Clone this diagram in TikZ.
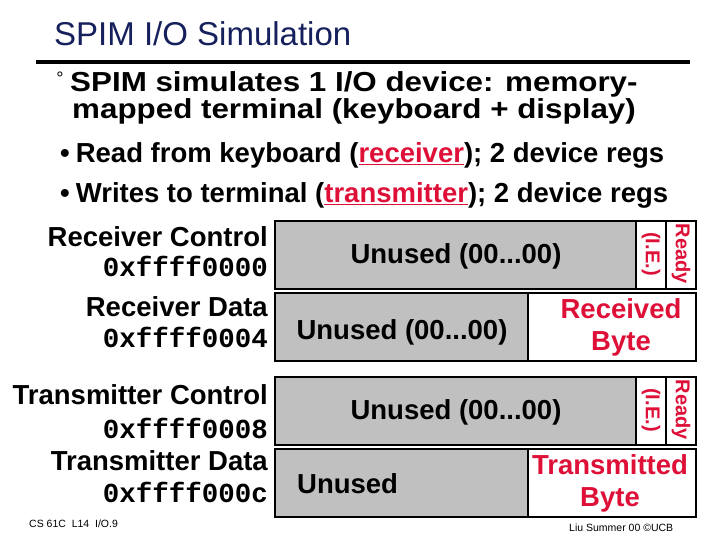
\documentclass[tikz,border=0pt]{standalone}
\usepackage{fontspec}
\setmainfont{Liberation Sans}
\setmonofont{Liberation Mono}
\usetikzlibrary{positioning}

\definecolor{titleblue}{RGB}{22,32,92}
\definecolor{regred}{RGB}{222,16,56}
\definecolor{unusedgray}{RGB}{192,192,192}

\tikzset{
  txt/.style={inner sep=0pt,anchor=base west},
  introtxt/.style={txt,xscale=1.14,font=\fontsize{27.5}{30}\selectfont\bfseries},
  reglabel/.style={inner sep=0pt,anchor=base east,font=\fontsize{27.5}{30}\selectfont\bfseries},
  regaddr/.style={inner sep=0pt,anchor=base east,font=\fontsize{27.5}{30}\selectfont\ttfamily\bfseries},
  unusedbox/.style={fill=unusedgray,draw=black,line width=2.5pt},
  bitbox/.style={fill=white,draw=black,line width=2.5pt},
  fieldtxt/.style={inner sep=0pt,font=\fontsize{27.5}{32}\selectfont\bfseries},
  redtxt/.style={fieldtxt,text=regred,align=center},
  bittxt/.style={inner sep=0pt,rotate=-90,text=regred,font=\fontsize{20}{24}\selectfont\bfseries},
  foot/.style={inner sep=0pt,anchor=base west,font=\fontsize{10.5}{12}\selectfont},
}

\begin{document}
\begin{tikzpicture}[x=1pt,y=-1pt]
  \useasboundingbox (0,0) rectangle (720,540);
  % heading and bullets
  \node[txt,text=titleblue,font=\fontsize{33}{36}\selectfont] (title) at (54,46) {SPIM I/O Simulation};
  \draw[line width=4pt] (36,62) -- (690,62);
  \node[inner sep=0pt,font=\fontsize{18}{20}\selectfont] (deg) at (60,78) {°};
  \node[introtxt] (intro1) at (70,92) {SPIM simulates 1 I/O device: memory-};
  \node[introtxt] (intro2) at (72,119) {mapped terminal (keyboard + display)};
  \node[txt,font=\fontsize{27.5}{30}\selectfont\bfseries] (read) at (60,163)
    {•\hspace{6pt}Read from keyboard (\textcolor{regred}{\underline{receiver}}); 2 device regs};
  \node[txt,font=\fontsize{27.5}{30}\selectfont\bfseries] (write) at (60,203)
    {•\hspace{6pt}Writes to terminal (\textcolor{regred}{\underline{transmitter}}); 2 device regs};

  % register names and addresses
  \node[reglabel] (rcname) at (268,247) {Receiver Control};
  \node[regaddr]  (rcaddr) at (268,276) {0xffff0000};
  \node[reglabel] (rdname) at (268,316) {Receiver Data};
  \node[regaddr]  (rdaddr) at (268,347) {0xffff0004};
  \node[reglabel] (tcname) at (268,404) {Transmitter Control};
  \node[regaddr]  (tcaddr) at (268,438) {0xffff0008};
  \node[reglabel] (tdname) at (268,470) {Transmitter Data};
  \node[regaddr]  (tdaddr) at (268,502) {0xffff000c};

  % receiver control
  \draw[unusedbox] (275,221) rectangle (636,289);
  \draw[bitbox] (636,221) rectangle (666,289);
  \draw[bitbox] (666,221) rectangle (696,289);
  \node[fieldtxt] (rcunused) at (456,256) {Unused (00...00)};
  \node[bittxt] (rcie) at (651,254) {(I.E.)};
  \node[bittxt] (rcready) at (681,254) {Ready};
  % receiver data
  \draw[unusedbox] (275,293) rectangle (528,361);
  \draw[bitbox] (528,293) rectangle (696,361);
  \node[fieldtxt] (rdunused) at (402,332) {Unused (00...00)};
  \node[redtxt] (rdbyte) at (621,327) {Received\\Byte};

  % transmitter control
  \draw[unusedbox] (275,377) rectangle (636,445);
  \draw[bitbox] (636,377) rectangle (666,445);
  \draw[bitbox] (666,377) rectangle (696,445);
  \node[fieldtxt] (tcunused) at (456,412) {Unused (00...00)};
  \node[bittxt] (tcie) at (651,410) {(I.E.)};
  \node[bittxt] (tcready) at (681,410) {Ready};
  % transmitter data
  \draw[unusedbox] (275,449) rectangle (528,517);
  \draw[bitbox] (528,449) rectangle (696,517);
  \node[fieldtxt,anchor=west] (tdunused) at (297,484) {Unused};
  \node[redtxt] (tdbyte) at (610,483) {Transmitted\\Byte};

  % footers
  \node[foot] (lect) at (29,527) {CS 61C\ \ L14\ \ I/O.9};
  \node[foot] (copy) at (569,531) {Liu Summer 00 ©UCB};
\end{tikzpicture}
\end{document}
